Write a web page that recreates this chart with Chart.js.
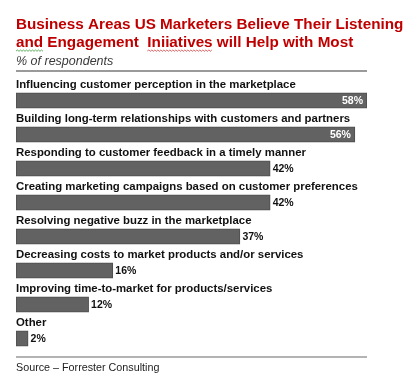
<!DOCTYPE html>
<html>
<head>
<meta charset="utf-8">
<script src="https://cdn.jsdelivr.net/npm/chart.js@4.4.1/dist/chart.umd.min.js"></script>
<style>
html,body{margin:0;padding:0;background:#fff;}
#wrap{position:relative;width:417px;height:381px;}
</style>
</head>
<body>
<div id="wrap"><canvas id="c" width="417" height="381"></canvas></div>
<script>
const titleLines = ["Business Areas US Marketers Believe Their Listening", "and Engagement  Iniiatives will Help with Most"];
const subtitleText = "% of respondents";
const sourceText = "Source \u2013 Forrester Consulting";
const categories = [
  "Influencing customer perception in the marketplace",
  "Building long-term relationships with customers and partners",
  "Responding to customer feedback in a timely manner",
  "Creating marketing campaigns based on customer preferences",
  "Resolving negative buzz in the marketplace",
  "Decreasing costs to market products and/or services",
  "Improving time-to-market for products/services",
  "Other"
];
const values = [58, 56, 42, 42, 37, 16, 12, 2];

function squiggle(ctx, x0, x1, y, color) {
  ctx.save();
  ctx.strokeStyle = color;
  ctx.lineWidth = 0.8;
  ctx.beginPath();
  let up = true;
  ctx.moveTo(x0, y);
  for (let x = x0 + 1.5; x <= x1; x += 1.5) {
    ctx.lineTo(x, up ? y - 1 : y + 0.3);
    up = !up;
  }
  ctx.stroke();
  ctx.restore();
}

const decor = {
  id: 'decor',
  afterDraw(chart) {
    const ctx = chart.ctx;
    const area = chart.chartArea;
    ctx.save();
    // title
    ctx.fillStyle = '#c00000';
    ctx.font = 'bold 15.25px "Liberation Sans", Arial, sans-serif';
    ctx.textBaseline = 'middle';
    ctx.textAlign = 'left';
    ctx.fillText(titleLines[0], 16, 25);
    ctx.fillText(titleLines[1], 16, 43);
    // spell-check underlines
    const wAnd = ctx.measureText('and').width;
    squiggle(ctx, 16, 16 + wAnd, 51, '#3c9a3c');
    const pre = ctx.measureText('and Engagement  ').width;
    const wIni = ctx.measureText('Iniiatives').width;
    squiggle(ctx, 16 + pre, 16 + pre + wIni, 51, '#d04040');
    // subtitle
    ctx.fillStyle = '#3a3a3a';
    ctx.font = 'italic 12.5px "Liberation Sans", Arial, sans-serif';
    ctx.fillText(subtitleText, 16, 61.5);
    // rules
    ctx.strokeStyle = '#9a9a9a';
    ctx.lineWidth = 2;
    ctx.beginPath(); ctx.moveTo(16, 71); ctx.lineTo(area.right, 71); ctx.stroke();
    ctx.lineWidth = 1.5;
    ctx.beginPath(); ctx.moveTo(16, 357); ctx.lineTo(area.right, 357); ctx.stroke();
    // source
    ctx.fillStyle = '#222';
    ctx.font = '10.75px "Liberation Sans", Arial, sans-serif';
    ctx.fillText(sourceText, 16, 368.5);
    // category & value labels
    const meta = chart.getDatasetMeta(0);
    meta.data.forEach((bar, i) => {
      const cy = bar.y;
      ctx.fillStyle = '#111';
      ctx.font = 'bold 11.4px "Liberation Sans", Arial, sans-serif';
      ctx.textAlign = 'left';
      ctx.fillText(categories[i], 16, cy - 15.5);
      const v = values[i];
      ctx.font = 'bold 10.5px "Liberation Sans", Arial, sans-serif';
      if (v >= 50) {
        ctx.fillStyle = '#ffffff';
        ctx.textAlign = 'right';
        ctx.fillText(v + '%', bar.x - 4, cy + 0.5);
      } else {
        ctx.fillStyle = '#111';
        ctx.textAlign = 'left';
        ctx.fillText(v + '%', bar.x + 2.5, cy + 0.5);
      }
    });
    ctx.restore();
  }
};

new Chart(document.getElementById('c'), {
  type: 'bar',
  data: {
    labels: categories,
    datasets: [{
      data: values,
      backgroundColor: '#626262',
      borderColor: '#4d4d4d',
      borderWidth: 1,
      borderSkipped: false,
      barThickness: 15.5
    }]
  },
  options: {
    indexAxis: 'y',
    responsive: false,
    animation: false,
    layout: { padding: { left: 16, right: 50, top: 83.5, bottom: 25.5 } },
    plugins: { legend: { display: false }, tooltip: { enabled: false }, title: { display: false } },
    scales: {
      x: { display: false, min: 0, max: 58 },
      y: { display: false }
    }
  },
  plugins: [decor]
});
</script>
</body>
</html>
